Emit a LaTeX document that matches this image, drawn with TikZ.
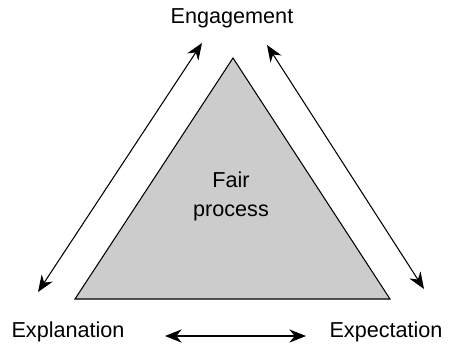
\documentclass[tikz,border=0pt]{standalone}
\usepackage{fontspec}
\setmainfont{Liberation Sans}
\usetikzlibrary{arrows.meta}

\begin{document}
\begin{tikzpicture}[x=0.02cm, y=-0.02cm, font=\fontsize{12.3}{14.5}\selectfont,
  link/.style={line width=0.6pt, {Stealth[length=9.5pt,width=7.5pt]}-{Stealth[length=9.5pt,width=7.5pt]}}]
  \useasboundingbox (0,0) rectangle (456,349);

  % triangle
  \coordinate (top) at (233,58);
  \coordinate (left) at (75,299);
  \coordinate (right) at (390,299);
  \draw[fill=black!20, line width=0.6pt] (top) -- (left) -- (right) -- cycle;

  \node[align=center, font=\fontsize{12.3}{16.5}\selectfont] (fair) at (231,196) {Fair\\process};
  \node (engage) at (232,18) {Engagement};
  \node (explain) at (68,332) {Explanation};
  \node (expect) at (386,332) {Expectation};

  % arrow ends
  \coordinate (l1) at (38,292);
  \coordinate (l2) at (202,43);
  \coordinate (r1) at (267,45);
  \coordinate (r2) at (424,289);
  \coordinate (b1) at (165,336);
  \coordinate (b2) at (306,336);

  \draw[link] (l1) -- (l2);
  \draw[link] (r1) -- (r2);
  \draw[link] (b1) -- (b2);
\end{tikzpicture}
\end{document}
